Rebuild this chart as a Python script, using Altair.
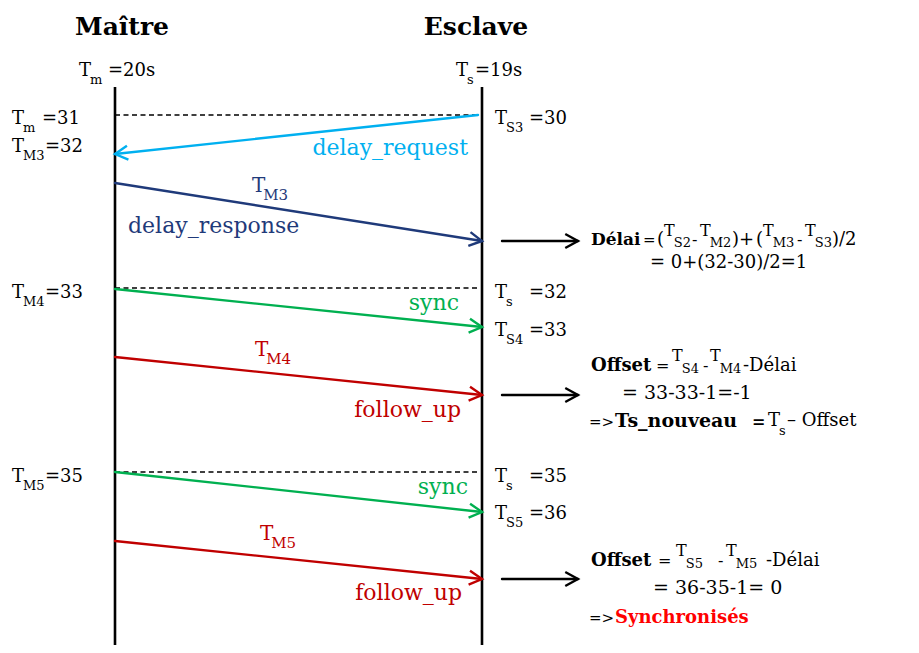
import altair as alt
import pandas as pd
import numpy as np

# ---------------- canvas (image-pixel coordinates) ----------------
W, H = 903, 637
X0, Y0 = 8, 8
XS = alt.Scale(domain=[X0, X0 + W])
YS = alt.Scale(domain=[Y0, Y0 + H], reverse=True)
FONT = "DejaVu Serif"
BLACK = "#000000"
LBLUE, DBLUE, GREEN, RED, BRIGHT_RED = "#00B0F0", "#1F3A7A", "#00B050", "#C00000", "#FF0000"
T_ADV = 0.611  # advance of "T" in em

# ---------------- data ----------------
# lifelines
lifeline_names = ["Maître", "Esclave"]
lifeline_x = [115, 482]
lifeline_top = [87, 87]
lifeline_bottom = [660, 660]

# messages between master and slave
msg_names = ["delay_request", "delay_response", "sync", "follow_up", "sync", "follow_up"]
msg_colors = [LBLUE, DBLUE, GREEN, RED, GREEN, RED]
msg_x1 = [478, 115, 115, 115, 115, 115]
msg_y1 = [115, 183, 289, 357, 472, 541]
msg_x2 = [115, 482, 482, 482, 482, 482]
msg_y2 = [154, 241, 327, 395, 512, 579]
msg_label_x = [468, 128, 459, 461, 468, 462]
msg_label_y = [155, 233, 310, 417, 494, 600]
msg_label_align = ["right", "left", "right", "right", "right", "right"]

# result arrows (towards the computations)
res_y = [241, 395, 579]
res_x1 = [502, 502, 502]
res_x2 = [578, 578, 578]

# dashed reference lines
dash_y = [115, 288, 472]
dash_x1 = [115, 115, 115]
dash_x2 = [477, 477, 477]

# time stamps
time_sub = ["m", "s", "m", "M3", "M4", "M5", "S3", "s", "S4", "s", "S5"]
time_val = ["=20s", "=19s", "=31", "=32", "=33", "=35", "=30", "=32", "=33", "=35", "=36"]
time_xT = [79, 456, 12, 12, 12, 12, 495, 495, 495, 495, 495]
time_xval = [108, 475, 42, 45, 45, 45, 529, 529, 529, 529, 529]
time_base = [76, 76, 124, 152, 298, 482, 124, 298, 336, 482, 519]

# timestamp tags carried by messages
tag_sub = ["M3", "M4", "M5"]
tag_color = [DBLUE, RED, RED]
tag_xT = [252, 255, 260]
tag_base = [192, 356, 540]

# titles
title_x = [122, 476]
title_y = [35, 35]

# ---------------- build tables ----------------
rows = []  # text, x, y, size, color, weight, align


def add(text, x, y, size=18, color=BLACK, weight="normal", align="left"):
    rows.append(dict(text=text, x=x, y=y, size=size, color=color, weight=weight, align=align))


def tsub(sub, x, base, size=16, sub_size=13, raise_t=9, color=BLACK):
    """a raised 'T' followed by its subscript on the baseline"""
    add("T", x, base - raise_t, size, color)
    add(sub, x + T_ADV * size, base + 2, sub_size, color)


for name, x, y in zip(lifeline_names, title_x, title_y):
    add(name, x, y, 25, BLACK, "bold", "center")

for sub, val, xT, xv, b in zip(time_sub, time_val, time_xT, time_xval, time_base):
    add("T", xT, b, 18)
    add(sub, xT + T_ADV * 18, b + 8, 13)
    add(val, xv, b, 18)

for sub, col, xT, b in zip(tag_sub, tag_color, tag_xT, tag_base):
    add("T", xT, b, 20, col)
    add(sub, xT + T_ADV * 20 - 1, b + 8, 15, col)

for name, col, lx, ly, al in zip(msg_names, msg_colors, msg_label_x, msg_label_y, msg_label_align):
    add(name, lx, ly, 22, col, "normal", al)

# --- computation 1 : delay
B1 = 245
add("Délai", 591, B1, 17, weight="bold")
add("=", 643, B1, 15)
add("(", 657, B1, 18)
tsub("S2", 664, B1)
add("-", 692, B1, 16)
tsub("M2", 700, B1)
add(")+", 732, B1, 18)
add("(", 756, B1, 18)
tsub("M3", 763, B1)
add("-", 797, B1, 16)
tsub("S3", 805, B1)
add(")/2", 832, B1, 18)
add("= 0+(32-30)/2=1", 650, 268, 18)

# --- computation 2 : offset
B2 = 371
add("Offset", 591, B2, 18, weight="bold")
add("=", 656, B2, 16)
tsub("S4", 672, B2, raise_t=10)
add("-", 703, B2, 16)
tsub("M4", 710, B2, raise_t=10)
add("-Délai", 743, B2, 18)
add("= 33-33-1=-1", 622, 399, 19)
add("=>", 589, 427, 15)
add("Ts_nouveau", 615, 427, 19, weight="bold")
add("=", 752, 427, 16, weight="bold")
add("T", 768, 426, 18)
add("s", 779, 435, 13)
add("– Offset", 787, 426, 18)

# --- computation 3 : offset, synchronised
B3 = 566
add("Offset", 591, B3, 18, weight="bold")
add("=", 658, B3, 16)
tsub("S5", 676, B3, raise_t=10)
add("-", 718, B3, 16)
tsub("M5", 726, B3, raise_t=10)
add("-Délai", 766, B3, 18)
add("= 36-35-1= 0", 653, 594, 19)
add("=>", 589, 623, 15)
add("Synchronisés", 615, 623, 18, BRIGHT_RED, "bold")

text_df = pd.DataFrame(rows)

lifelines = pd.DataFrame(dict(name=lifeline_names, x=lifeline_x, y1=lifeline_top, y2=lifeline_bottom))
msgs = pd.DataFrame(dict(name=msg_names, color=msg_colors, x1=msg_x1, y1=msg_y1, x2=msg_x2, y2=msg_y2))
res = pd.DataFrame(dict(color=BLACK, x1=res_x1, y1=res_y, x2=res_x2, y2=res_y))
dashes = pd.DataFrame(dict(x1=dash_x1, x2=dash_x2, y=dash_y))

arrows = pd.concat([msgs[["color", "x1", "y1", "x2", "y2"]], res], ignore_index=True)
arrows["angle"] = np.mod(np.degrees(np.arctan2(arrows.y2 - arrows.y1, arrows.x2 - arrows.x1)), 360)

CHEVRON = "M -1 -0.55 L 0 0 L -1 0.55"

# ---------------- layers ----------------
life_layer = alt.Chart(lifelines).mark_rule(color=BLACK, strokeWidth=2.6).encode(
    x=alt.X("x:Q", scale=XS, axis=None),
    y=alt.Y("y1:Q", scale=YS, axis=None),
    y2="y2:Q",
)

dash_layer = alt.Chart(dashes).mark_rule(color=BLACK, strokeWidth=1.3, strokeDash=[5, 3.5]).encode(
    x=alt.X("x1:Q", scale=XS, axis=None),
    x2="x2:Q",
    y=alt.Y("y:Q", scale=YS, axis=None),
)

shaft_layer = alt.Chart(arrows).mark_rule(strokeWidth=2.4, strokeCap="round").encode(
    x=alt.X("x1:Q", scale=XS, axis=None),
    x2="x2:Q",
    y=alt.Y("y1:Q", scale=YS, axis=None),
    y2="y2:Q",
    color=alt.Color("color:N", scale=None),
)

head_layer = alt.Chart(arrows).mark_point(
    shape=CHEVRON, filled=False, size=650, strokeWidth=2.4, opacity=1, strokeJoin="miter"
).encode(
    x=alt.X("x2:Q", scale=XS, axis=None),
    y=alt.Y("y2:Q", scale=YS, axis=None),
    angle=alt.Angle("angle:Q", scale=None),
    color=alt.Color("color:N", scale=None),
)

text_layers = []
for (w, a), sub in text_df.groupby(["weight", "align"]):
    text_layers.append(
        alt.Chart(sub).mark_text(font=FONT, fontWeight=w, align=a, baseline="alphabetic").encode(
            x=alt.X("x:Q", scale=XS, axis=None),
            y=alt.Y("y:Q", scale=YS, axis=None),
            text="text:N",
            size=alt.Size("size:Q", scale=None),
            color=alt.Color("color:N", scale=None),
        )
    )

chart = alt.layer(life_layer, dash_layer, shaft_layer, head_layer, *text_layers).properties(
    width=W, height=H, padding=0, autosize=alt.AutoSizeParams(type="none"), background="white"
).configure_view(stroke=None)

chart.save("out.html", embed_options={"renderer": "svg", "actions": False})
